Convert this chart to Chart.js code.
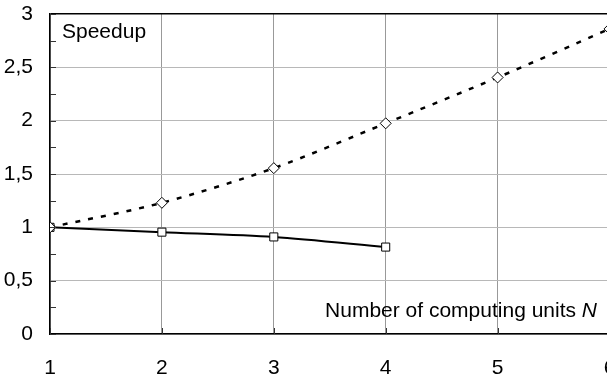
<!DOCTYPE html>
<html>
<head>
<meta charset="utf-8">
<script src="https://cdn.jsdelivr.net/npm/chart.js@4"></script>
<style>
  html, body { margin: 0; padding: 0; background: #fff; overflow: hidden; }
  canvas { display: block; }
</style>
</head>
<body>
<canvas id="graph" width="625" height="375"></canvas>
<script>
// values
const units = [1, 2, 3, 4, 5, 6];
const upperSpeedup = [1.0, 1.23, 1.555, 1.975, 2.405, 2.86];   // dotted, diamonds
const measuredSpeedup = [1.0, 0.955, 0.91, 0.815];             // solid, squares
const yMinorStep = 0.25;

const FONT = 'Liberation Sans, Arial, sans-serif';
const FSIZE = 21;

function toPoints(ys) {
  return ys.map((y, i) => ({ x: units[i], y: y }));
}

// inward tick marks + the two captions
const extras = {
  id: 'extras',
  afterDraw(chart) {
    const ctx = chart.ctx;
    const a = chart.chartArea;
    const xs = chart.scales.x, ys = chart.scales.y;
    ctx.save();
    ctx.strokeStyle = '#333';
    ctx.lineWidth = 1;
    ctx.beginPath();
    for (let v = 0; v <= 3 + 1e-9; v += yMinorStep) {
      const py = Math.round(ys.getPixelForValue(v)) + 0.5;
      ctx.moveTo(a.left, py);
      ctx.lineTo(a.left + 6, py);
    }
    units.forEach(u => {
      const px = Math.round(xs.getPixelForValue(u)) + 0.5;
      ctx.moveTo(px, a.bottom);
      ctx.lineTo(px, a.bottom - 6);
    });
    ctx.stroke();

    ctx.fillStyle = '#000';
    ctx.textBaseline = 'alphabetic';
    ctx.textAlign = 'left';
    ctx.font = FSIZE + 'px ' + FONT;
    ctx.fillText('Speedup', 62, 38);

    const label = 'Number of computing units ';
    ctx.font = 'italic ' + FSIZE + 'px ' + FONT;
    const wN = ctx.measureText('N').width;
    ctx.font = FSIZE + 'px ' + FONT;
    const wL = ctx.measureText(label).width;
    const right = 597;
    ctx.fillText(label, right - wN - wL, 317);
    ctx.font = 'italic ' + FSIZE + 'px ' + FONT;
    ctx.fillText('N', right - wN, 317);
    ctx.restore();
  }
};

new Chart(document.getElementById('graph').getContext('2d'), {
  type: 'line',
  data: {
    datasets: [
      {
        label: 'upper',
        data: toPoints(upperSpeedup),
        borderColor: '#000',
        borderWidth: 2.5,
        borderDash: [5, 8],
        tension: 0.3,
        pointStyle: 'rectRot',
        pointRadius: 5.5,
        pointBackgroundColor: '#fff',
        pointBorderColor: '#000',
        pointBorderWidth: 1,
        fill: false
      },
      {
        label: 'measured',
        data: toPoints(measuredSpeedup),
        borderColor: '#000',
        borderWidth: 2,
        tension: 0.3,
        pointStyle: 'rect',
        pointRadius: 5.7,
        pointBackgroundColor: '#fff',
        pointBorderColor: '#000',
        pointBorderWidth: 1,
        fill: false
      }
    ]
  },
  options: {
    responsive: false,
    animation: false,
    layout: { padding: { top: 14, right: 15.5, left: 0, bottom: 0 } },
    plugins: { legend: { display: false }, tooltip: { enabled: false } },
    scales: {
      x: {
        type: 'linear',
        min: 1, max: 6,
        afterFit(s) { s.height = 41; s.paddingLeft = 0; s.paddingRight = 0; },
        border: { color: '#000', width: 1.5 },
        grid: { color: '#999', lineWidth: 1, drawTicks: false },
        ticks: {
          stepSize: 1,
          padding: 22,
          color: '#000',
          font: { family: FONT, size: FSIZE }
        }
      },
      y: {
        min: 0, max: 3,
        afterFit(s) { s.width = 50; s.paddingTop = 0; s.paddingBottom = 0; },
        border: { color: '#000', width: 1.5 },
        grid: {
          color: c => (c.tick && c.tick.value === 3) ? '#000' : '#b8b8b8',
          lineWidth: c => (c.tick && c.tick.value === 3) ? 1.5 : 1,
          drawTicks: false
        },
        ticks: {
          stepSize: 0.5,
          padding: 17,
          color: '#000',
          font: { family: FONT, size: FSIZE },
          callback: v => String(v).replace('.', ',')
        }
      }
    }
  },
  plugins: [extras]
});
</script>
</body>
</html>
